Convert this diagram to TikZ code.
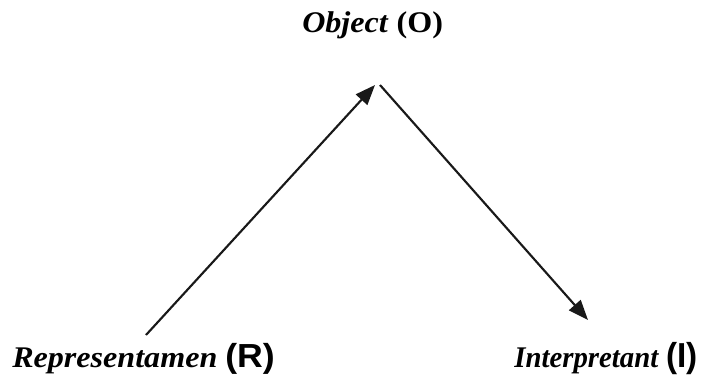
\documentclass[tikz,border=0pt]{standalone}
\usepackage{fontspec}
\usepackage{graphicx}
\setmainfont{Liberation Serif}
\newfontfamily\termsans{Liberation Sans}
\usetikzlibrary{arrows.meta}

\newcommand{\termname}[3][1.07]{%
  \scalebox{#1}[1]{\textbf{\textit{#2}} #3}%
}

\begin{document}
\begin{tikzpicture}[
  x=0.75pt,
  y=-0.75pt,
  termtext/.style={
    inner sep=0pt,
    font=\fontsize{22.5}{26}\selectfont
  },
  signarrow/.style={
    draw=black!90,
    line width=1.6pt,
    -{Triangle[length=15pt,width=11.5pt]}
  }
]

\useasboundingbox (0,0) rectangle (702,378);

% the three corners of the sign
\node[termtext, anchor=base west] (obj) at (302,33)
  {\termname{Object}{\textbf{(O)}}};
\node[termtext, anchor=base west] (rep) at (12,367)
  {\termname{Representamen}{{\termsans\bfseries\fontsize{25}{28}\selectfont(R)}}};
\node[termtext, anchor=base east] (int) at (698,367)
  {\termname[0.96]{Interpretant}{{\termsans\bfseries\fontsize{26}{28}\selectfont(I)}}};

% arrow ends
\coordinate (repTop) at (146,335);
\coordinate (objLeft) at (375,85);
\coordinate (objRight) at (380,85);
\coordinate (intTop) at (588,320);

\draw[signarrow] (repTop) -- (objLeft);
\draw[signarrow] (objRight) -- (intTop);

\end{tikzpicture}
\end{document}
